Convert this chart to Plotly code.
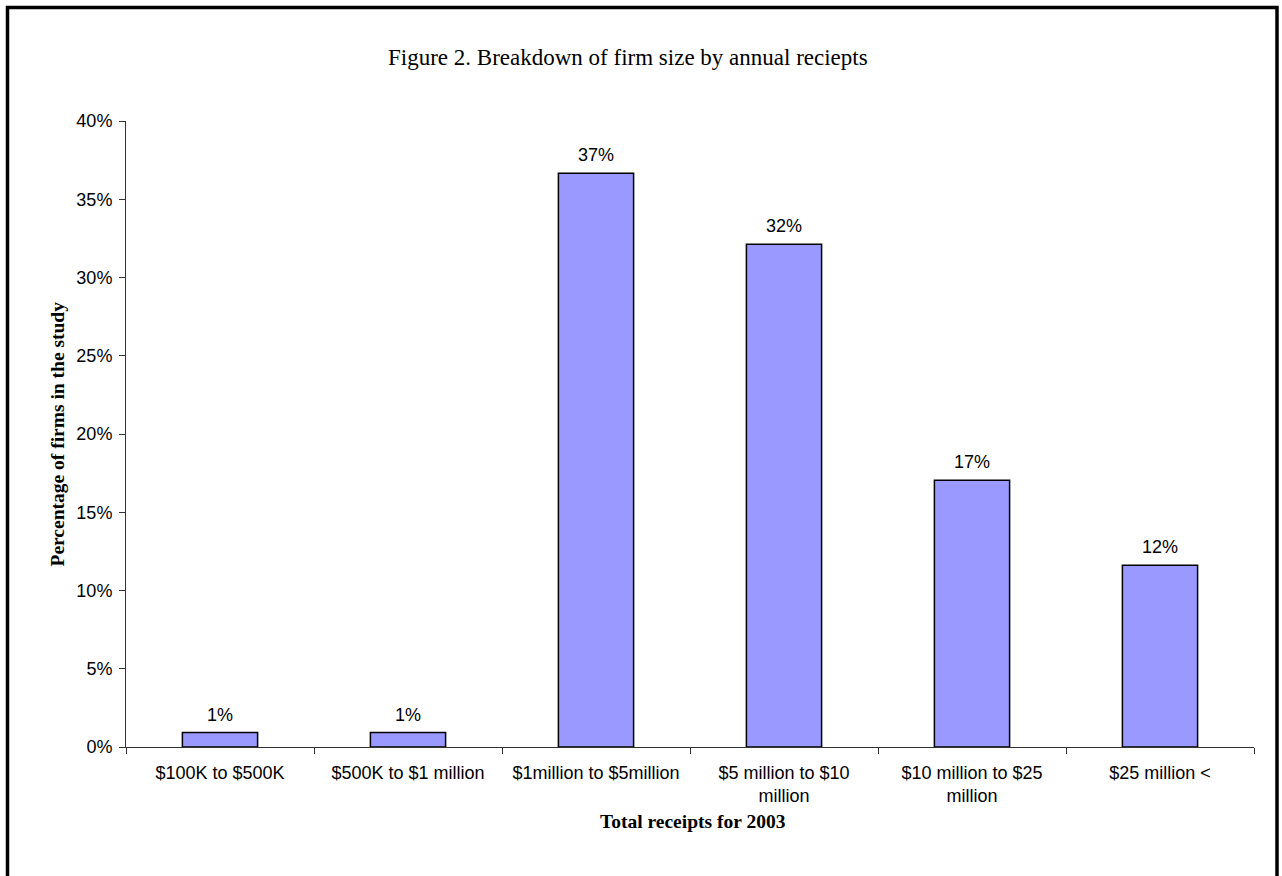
import plotly.graph_objects as go

categories = ["$100K to $500K", "$500K to $1 million", "$1million to $5million",
              "$5 million to $10<br>million", "$10 million to $25<br>million", "$25 million <"]
values = [0.92, 0.92, 36.66, 32.12, 17.05, 11.62]
labels = [f"{round(v)}%" for v in values]

W, H = 1282, 876
L, R, T, B = 126, 28, 121, 129
pw, ph = W - L - R, H - T - B

def px(x):
    return (x - L) / pw

def py(y):
    return (H - B - y) / ph

fig = go.Figure()
fig.add_trace(go.Bar(
    x=categories, y=values, width=0.4,
    marker=dict(color="#9999FF", line=dict(color="black", width=1.5)),
    hoverinfo="skip",
))

ann = []
for c, v, t in zip(categories, values, labels):
    ann.append(dict(x=c, y=v, xref="x", yref="y", text=t, showarrow=False,
                    yanchor="bottom", yshift=6,
                    font=dict(family="Liberation Sans, Arial", size=18, color="black")))

ann.append(dict(x=px(628), y=py(57), xref="paper", yref="paper",
                text="Figure 2. Breakdown of firm size by annual reciepts",
                showarrow=False, xanchor="center", yanchor="middle",
                font=dict(family="Liberation Serif, Times New Roman", size=23, color="black")))
ann.append(dict(x=px(693), y=py(821), xref="paper", yref="paper",
                text="<b>Total receipts for 2003</b>",
                showarrow=False, xanchor="center", yanchor="middle",
                font=dict(family="Liberation Serif, Times New Roman", size=19.5, color="black")))
ann.append(dict(x=px(56.5), y=py(434), xref="paper", yref="paper",
                text="<b>Percentage of firms in the study</b>", textangle=-90,
                showarrow=False, xanchor="center", yanchor="middle",
                font=dict(family="Liberation Serif, Times New Roman", size=19.5, color="black")))

fig.update_layout(
    width=W, height=H,
    margin=dict(l=L, r=R, t=T, b=B),
    paper_bgcolor="white", plot_bgcolor="white",
    showlegend=False,
    annotations=ann,
    shapes=[dict(type="rect", xref="paper", yref="paper",
                 x0=px(7.5), x1=px(1277), y0=py(7.5), y1=py(950),
                 line=dict(color="black", width=3.5), fillcolor="rgba(0,0,0,0)")],
    xaxis=dict(showline=True, linecolor="#333333", linewidth=1,
               ticks="outside", ticklen=6, tickcolor="#333333", tickson="boundaries",
               tickfont=dict(family="Liberation Sans, Arial", size=18, color="black"),
               ticklabelstandoff=9, showgrid=False, zeroline=False),
    yaxis=dict(range=[0, 40], dtick=5, ticksuffix="%",
               showline=True, linecolor="#333333", linewidth=1,
               ticks="outside", ticklen=6, tickcolor="#333333",
               tickfont=dict(family="Liberation Sans, Arial", size=18, color="black"),
               ticklabelstandoff=3, showgrid=False, zeroline=False),
)

fig.write_html("out.html", config={"displayModeBar": False},
               post_script="document.body.style.margin='0';document.body.style.overflow='hidden';")
